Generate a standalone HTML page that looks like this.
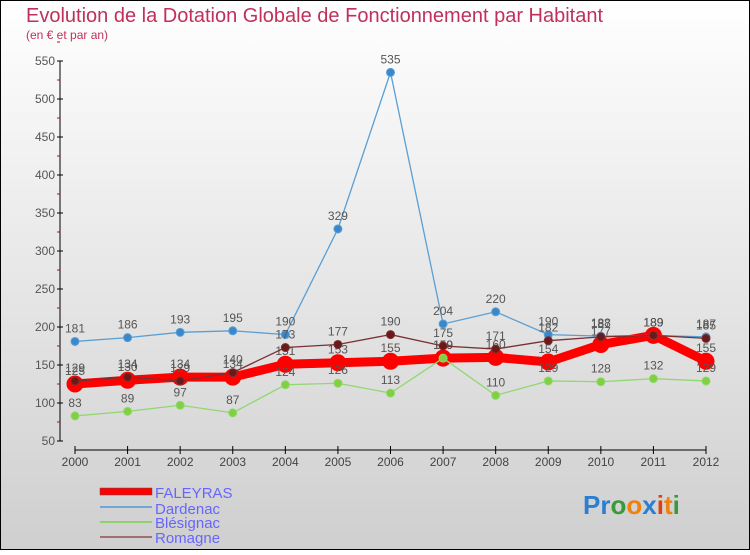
<!DOCTYPE html>
<html><head><meta charset="utf-8"><style>
body{margin:0;width:750px;height:550px;overflow:hidden;font-family:"Liberation Sans",sans-serif}
</style></head><body>
<svg id="c" width="750" height="550" xmlns="http://www.w3.org/2000/svg">
<defs><linearGradient id="bg" x1="0" y1="0" x2="0" y2="1"><stop offset="0" stop-color="#ffffff"/><stop offset="1" stop-color="#cfcfcf"/></linearGradient></defs>
<rect x="0.5" y="0.5" width="749" height="549" fill="url(#bg)" stroke="#000"/>
<text x="26" y="22" font-size="20" fill="#c0305a">Evolution de la Dotation Globale de Fonctionnement par Habitant</text>
<text x="26" y="39" font-size="12" fill="#c0305a">(en € et par an)</text>
<g id="axes"></g><g id="series"></g>
<g>
<rect x="100" y="488" width="52" height="7" fill="#f00" stroke="#555" stroke-width="0.5"/>
<text x="155" y="498" font-size="15" fill="#6666ff">FALEYRAS</text>
<line x1="100" y1="507" x2="152" y2="507" stroke="#6fa8d8" stroke-width="2"/>
<text x="155" y="514" font-size="15" fill="#6666ff">Dardenac</text>
<line x1="100" y1="522" x2="152" y2="522" stroke="#90d070" stroke-width="2"/>
<text x="155" y="528" font-size="15" fill="#6666ff">Blésignac</text>
<line x1="100" y1="537" x2="152" y2="537" stroke="#a07070" stroke-width="2"/>
<text x="155" y="543" font-size="15" fill="#6666ff">Romagne</text>
</g>
<text x="583" y="514" font-size="26" font-weight="bold"><tspan fill="#2a7fd0">Pr</tspan><tspan fill="#3a9a3a">o</tspan><tspan fill="#f08010">o</tspan><tspan fill="#2a7fd0">x</tspan><tspan fill="#e04010">i</tspan><tspan fill="#f08010">t</tspan><tspan fill="#3a9a3a">i</tspan></text>
</svg>
<script>
const years=["2000","2001","2002","2003","2004","2005","2006","2007","2008","2009","2010","2011","2012"];
const yTicks=[50,100,150,200,250,300,350,400,450,500,550];
const faleyras=[125,130,134,134,151,153,155,159,160,154,177,189,155];
const dardenac=[181,186,193,195,190,329,535,204,220,190,188,189,187];
const blesignac=[83,89,97,87,124,126,113,159,110,129,128,132,129];
const romagne=[129,134,129,140,173,177,190,175,171,182,187,189,185];
const NS="http://www.w3.org/2000/svg";
const X=i=>75+i*(706-75)/12;
const Y=v=>441-(v-50)*0.76;
function mk(t,a,p){const e=document.createElementNS(NS,t);for(const k in a)e.setAttribute(k,a[k]);p.appendChild(e);return e;}
const ax=document.getElementById('axes');
let l=mk('line',{x1:60,y1:Y(550),x2:60,y2:Y(50),stroke:'#000'},ax);

yTicks.forEach(v=>{
 mk('line',{x1:57,y1:Y(v),x2:63,y2:Y(v),stroke:'#000'},ax);
 mk('line',{x1:57,y1:Y(v+25),x2:60,y2:Y(v+25),stroke:'#d00'},ax);
 const t=mk('text',{x:55,y:Y(v)+4,'font-size':12,fill:'#555','text-anchor':'end'},ax);
 t.textContent=v;
});
l=mk('line',{x1:X(0),y1:450,x2:X(12),y2:450,stroke:'#000'},ax);

years.forEach((y,i)=>{
 mk('line',{x1:X(i),y1:446,x2:X(i),y2:454,stroke:'#000'},ax);
 const t=mk('text',{x:X(i),y:466,'font-size':12,fill:'#444','text-anchor':'middle'},ax);
 t.textContent=y;
});
const sg=document.getElementById('series');
function series(name,vals,color,w,r,dot){
 const g=mk('g',{},sg);
 
 const p=mk('polyline',{points:vals.map((v,i)=>X(i)+','+Y(v)).join(' '),fill:'none',stroke:color,'stroke-width':w},g);
 
 vals.forEach((v,i)=>{
  const c=mk('circle',{cx:X(i),cy:Y(v),r:r,fill:dot,stroke:color,'stroke-width':1},g);
  
  const t=mk('text',{x:X(i),y:Y(v)-9,'font-size':12,fill:'#555','text-anchor':'middle'},g);
  t.textContent=v;
 });
}
series('faleyras',faleyras,'#f00',9,8,'#f00');
series('dardenac',dardenac,'#5a9fd4',1.3,4,'#3a88cc');
series('blesignac',blesignac,'#90d870',1.3,4,'#80d040');
series('romagne',romagne,'#7a3030',1.3,4,'#6a1a1a');
</script>
</body></html>
